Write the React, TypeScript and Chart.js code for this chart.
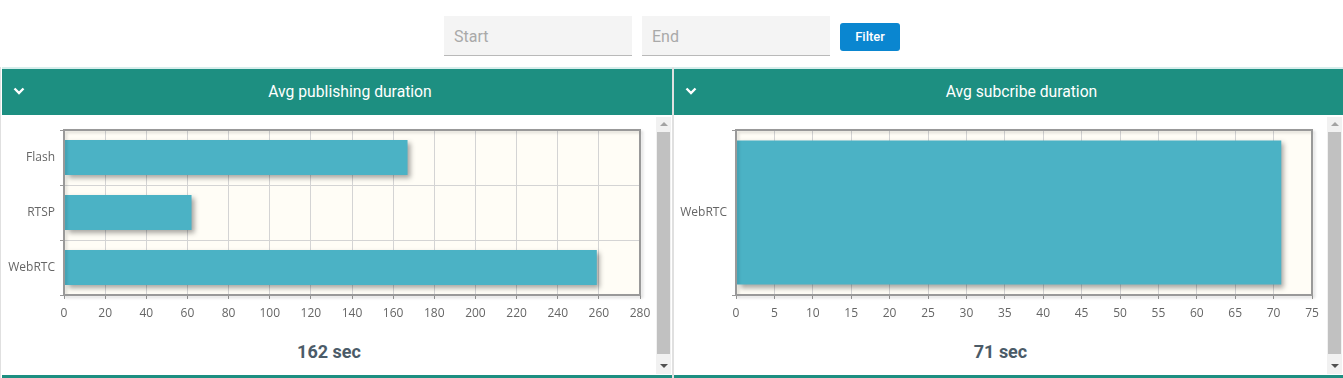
import React, { useEffect, useRef } from "react";
import { Chart, registerables } from "chart.js";

Chart.register(...registerables);

// ---- data ----
const pubCategories = ["Flash", "RTSP", "WebRTC"];
const pubValues = [167, 62, 259];
const pubMax = 280;
const pubStep = 20;
const pubTitle = "Avg publishing duration";
const pubSummary = "162 sec";

const subCategories = ["WebRTC"];
const subValues = [71];
const subMax = 75;
const subStep = 5;
const subTitle = "Avg subcribe duration";
const subSummary = "71 sec";

const BAR_COLOR = "#4bb2c5";

const decorPlugin = {
  id: "decor",
  beforeDraw(chart: any) {
    const { ctx, chartArea: a } = chart;
    ctx.save();
    ctx.fillStyle = "#fffdf6";
    ctx.fillRect(a.left, a.top, a.right - a.left, a.bottom - a.top);
    ctx.restore();
  },
  beforeDatasetsDraw(chart: any) {
    const ctx = chart.ctx;
    ctx.save();
    ctx.shadowColor = "rgba(0,0,0,0.35)";
    ctx.shadowOffsetX = 3;
    ctx.shadowOffsetY = 3;
    ctx.shadowBlur = 5;
  },
  afterDatasetsDraw(chart: any) {
    const { ctx, chartArea: a } = chart;
    ctx.restore();
    ctx.save();
    ctx.shadowColor = "rgba(0,0,0,0.15)";
    ctx.shadowOffsetX = 2;
    ctx.shadowOffsetY = 2;
    ctx.shadowBlur = 3;
    ctx.strokeStyle = "#999";
    ctx.lineWidth = 2;
    ctx.strokeRect(a.left, a.top, a.right - a.left, a.bottom - a.top);
    ctx.restore();
  },
};

function makeConfig(labels: string[], values: number[], max: number, step: number, barPct: number): any {
  return {
    type: "bar",
    data: {
      labels,
      datasets: [
        {
          data: values,
          backgroundColor: BAR_COLOR,
          borderWidth: 0,
          barPercentage: barPct,
          categoryPercentage: 1,
        },
      ],
    },
    options: {
      indexAxis: "y",
      responsive: false,
      animation: false,
      layout: { padding: { top: 12, right: 12, left: 0, bottom: 0 } },
      plugins: { legend: { display: false }, tooltip: { enabled: false } },
      scales: {
        x: {
          min: 0,
          max,
          ticks: { stepSize: step, color: "#666", font: { size: 12, family: "'Open Sans', sans-serif" }, padding: 7 },
          grid: { color: "#d4d4d4", tickColor: "#999", tickLength: 4 },
          border: { display: false },
          afterFit: (s: any) => {
            s.height = 40;
            s.paddingLeft = 0;
            s.paddingRight = 0;
          },
        },
        y: {
          ticks: { color: "#666", font: { size: 12, family: "'Open Sans', sans-serif" }, padding: 5 },
          grid: { color: "#d4d4d4", tickColor: "#999", tickLength: 4, offset: true },
          border: { display: false },
          afterFit: (s: any) => {
            s.width = 62;
            s.paddingTop = 0;
            s.paddingBottom = 0;
          },
        },
      },
    },
    plugins: [decorPlugin],
  };
}

function BarChart(props: { labels: string[]; values: number[]; max: number; step: number; barPct: number }) {
  const ref = useRef<HTMLCanvasElement | null>(null);
  useEffect(() => {
    if (!ref.current) return;
    const chart = new Chart(ref.current, makeConfig(props.labels, props.values, props.max, props.step, props.barPct));
    return () => chart.destroy();
  }, []);
  return <canvas ref={ref} width={650} height={217} style={{ width: 650, height: 217, display: "block" }} />;
}

function Chevron() {
  return (
    <svg width="12" height="8" viewBox="0 0 12 8" style={{ display: "block" }}>
      <polyline points="1.5,1.5 6,6 10.5,1.5" fill="none" stroke="#fff" strokeWidth="2.4" />
    </svg>
  );
}

function Scrollbar(props: { left: number }) {
  return (
    <div style={{ position: "absolute", left: props.left, top: 117, width: 15, height: 257, background: "#f1f1f1" }}>
      <div
        style={{
          position: "absolute",
          left: 4,
          top: 5,
          width: 0,
          height: 0,
          borderLeft: "4px solid transparent",
          borderRight: "4px solid transparent",
          borderBottom: "4px solid #a3a3a3",
        }}
      />
      <div style={{ position: "absolute", left: 1, top: 15, width: 13, height: 222, background: "#c1c1c1" }} />
      <div
        style={{
          position: "absolute",
          left: 4,
          top: 247,
          width: 0,
          height: 0,
          borderLeft: "4px solid transparent",
          borderRight: "4px solid transparent",
          borderTop: "4px solid #505050",
        }}
      />
    </div>
  );
}

function Panel(props: {
  left: number;
  width: number;
  title: string;
  summary: string;
  labels: string[];
  values: number[];
  max: number;
  step: number;
  barPct: number;
}) {
  const { left, width } = props;
  return (
    <>
      <div style={{ position: "absolute", left, top: 67, width, height: 2, background: "#d6eeec" }} />
      <div style={{ position: "absolute", left, top: 69, width, height: 46, background: "#1d8f81" }}>
        <div style={{ position: "absolute", left: 11, top: 18 }}>
          <Chevron />
        </div>
        <div
          style={{
            position: "absolute",
            left: 26,
            right: 0,
            top: 0,
            height: 46,
            lineHeight: "46px",
            textAlign: "center",
            color: "#fff",
            fontSize: 15.7,
            fontFamily: "Roboto, sans-serif",
            fontWeight: 400,
          }}
        >
          {props.title}
        </div>
      </div>
      <div style={{ position: "absolute", left, top: 118 }}>
        <BarChart labels={props.labels} values={props.values} max={props.max} step={props.step} barPct={props.barPct} />
      </div>
      <div
        style={{
          position: "absolute",
          left,
          width: width - 16,
          top: 340,
          height: 24,
          lineHeight: "24px",
          textAlign: "center",
          color: "#4b5b68",
          fontSize: 18,
          fontWeight: 700,
          fontFamily: "Roboto, sans-serif",
        }}
      >
        {props.summary}
      </div>
      <Scrollbar left={left + width - 16} />
      <div style={{ position: "absolute", left, top: 375, width, height: 3, background: "#1d8f81" }} />
    </>
  );
}

export default function App() {
  const inputStyle: React.CSSProperties = {
    position: "absolute",
    top: 16,
    width: 188,
    height: 40,
    background: "#f4f4f4",
    borderBottom: "1px solid #b9b9b9",
    boxSizing: "border-box",
    color: "#a9a9a9",
    fontSize: 16,
    fontFamily: "Roboto, sans-serif",
    lineHeight: "41px",
    paddingLeft: 10,
  };
  return (
    <div
      style={{
        position: "absolute",
        left: 0,
        top: 0,
        width: 1343,
        height: 378,
        background: "#fff",
        overflow: "hidden",
        fontFamily: "Roboto, sans-serif",
      }}
    >
      <div style={{ ...inputStyle, left: 444 }}>Start</div>
      <div style={{ ...inputStyle, left: 642 }}>End</div>
      <div
        style={{
          position: "absolute",
          left: 840,
          top: 23,
          width: 60,
          height: 28,
          background: "#0a86d0",
          borderRadius: 3,
          color: "#fff",
          fontSize: 13,
          fontWeight: 500,
          lineHeight: "28px",
          textAlign: "center",
        }}
      >
        Filter
      </div>
      <div style={{ position: "absolute", left: 0, top: 67, width: 1, height: 311, background: "#e0e0e0" }} />
      <div style={{ position: "absolute", left: 672, top: 67, width: 2, height: 311, background: "#e0e0e0" }} />
      <Panel
        left={2}
        width={670}
        title={pubTitle}
        summary={pubSummary}
        labels={pubCategories}
        values={pubValues}
        max={pubMax}
        step={pubStep}
        barPct={0.633}
      />
      <Panel
        left={674}
        width={669}
        title={subTitle}
        summary={subSummary}
        labels={subCategories}
        values={subValues}
        max={subMax}
        step={subStep}
        barPct={0.873}
      />
    </div>
  );
}
